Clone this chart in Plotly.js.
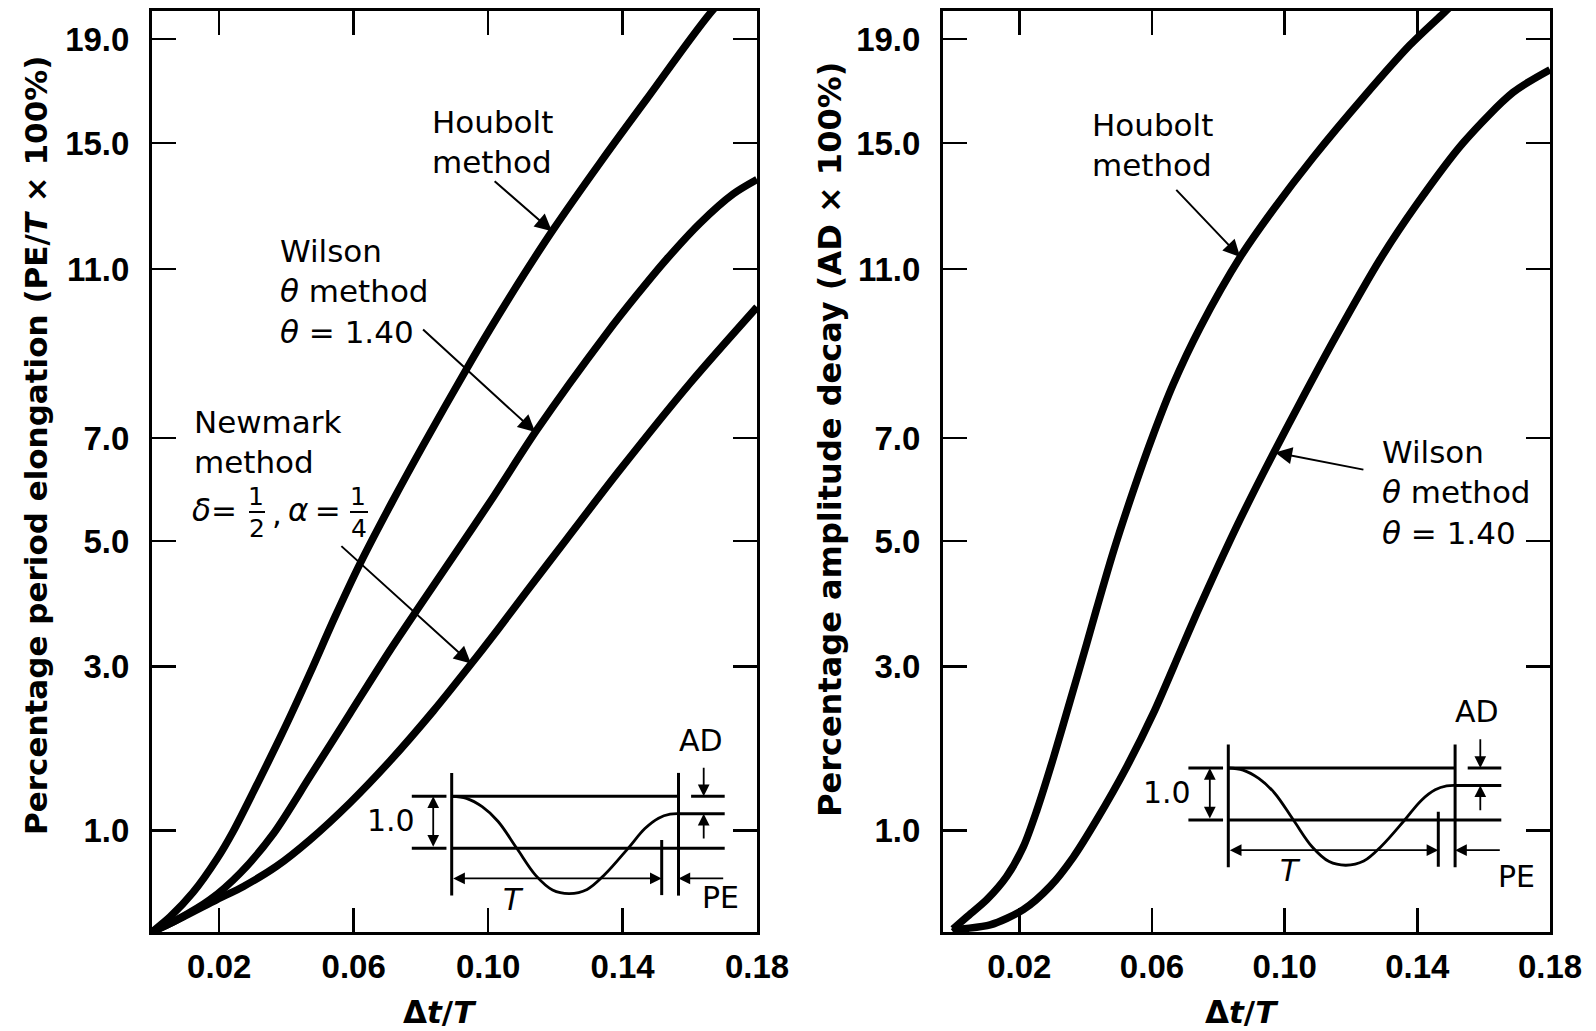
<!DOCTYPE html>
<html><head><meta charset="utf-8">
<script src="https://cdn.plot.ly/plotly-3.0.1.min.js"></script>
<style>html,body{margin:0;padding:0;background:#fff}#chart{width:1596px;height:1031px}</style>
</head><body><div id="chart"></div>
<script>
// ---------------- data ----------------
const xTickVals = [0.02, 0.06, 0.10, 0.14, 0.18];
const xTickText = ['0.02', '0.06', '0.10', '0.14', '0.18'];
const yTickVals = [1, 3, 5, 7, 11, 15, 19];
const yTickText = ['1.0', '3.0', '5.0', '7.0', '11.0', '15.0', '19.0'];

// the original's (non-uniform) vertical scale: value -> axis unit
const yScaleValues = [0, 1, 3, 5, 7, 11, 15, 19];
const yScaleUnits  = [0, 101.3, 265.3, 391, 494, 663, 789, 893];
const yTopUnit = 921;

// Percentage period elongation (left)
const peHouboltX = [0, 0.0054, 0.0122, 0.0193, 0.0241, 0.0312, 0.0390, 0.0470, 0.0545, 0.0619, 0.0713, 0.0806, 0.0937, 0.1006, 0.1104, 0.1193, 0.1333, 0.1473, 0.1681, 0.1726];
const peHouboltY = [0, 0.15, 0.39, 0.72, 0.99, 1.56, 2.21, 2.92, 3.80, 4.64, 5.74, 6.85, 8.65, 9.58, 10.84, 12.24, 14.37, 16.71, 20.29, 20.7];
const peWilsonX  = [0, 0.0074, 0.0173, 0.0262, 0.0361, 0.0470, 0.0589, 0.0708, 0.0788, 0.0896, 0.1015, 0.1145, 0.1353, 0.1442, 0.1531, 0.1630, 0.1729, 0.1800];
const peWilsonY  = [0, 0.12, 0.32, 0.58, 0.97, 1.66, 2.43, 3.26, 3.90, 4.75, 5.85, 7.19, 9.48, 10.38, 11.31, 12.45, 13.38, 13.84];
const peNewmarkX = [0, 0.0093, 0.0193, 0.0272, 0.0371, 0.0470, 0.0589, 0.0708, 0.0837, 0.0941, 0.1026, 0.1115, 0.1234, 0.1392, 0.1601, 0.1800];
const peNewmarkY = [0, 0.15, 0.32, 0.45, 0.65, 0.91, 1.34, 1.85, 2.46, 2.99, 3.57, 4.20, 5.04, 6.38, 8.30, 10.1];

// Percentage amplitude decay (right)
const adHouboltX = [0, 0.0042, 0.0102, 0.0162, 0.0212, 0.0253, 0.0303, 0.0353, 0.0403, 0.0433, 0.0483, 0.0544, 0.0604, 0.0664, 0.0745, 0.0868, 0.0966, 0.1086, 0.1237, 0.1378, 0.1478, 0.1514];
const adHouboltY = [0.03, 0.15, 0.32, 0.55, 0.84, 1.25, 1.89, 2.58, 3.36, 3.92, 4.82, 5.98, 7.08, 8.27, 9.61, 11.41, 12.89, 14.54, 16.75, 18.77, 19.98, 20.42];
const adWilsonX  = [0, 0.0011, 0.0112, 0.0212, 0.0293, 0.0363, 0.0433, 0.0524, 0.0604, 0.0685, 0.0735, 0.0795, 0.0865, 0.0966, 0.1046, 0.1152, 0.1288, 0.1398, 0.1539, 0.1689, 0.1800];
const adWilsonY  = [0, 0.02, 0.07, 0.22, 0.45, 0.74, 1.13, 1.78, 2.43, 3.24, 3.85, 4.55, 5.41, 6.70, 7.83, 9.37, 11.31, 13.05, 15.02, 16.95, 17.82];

// arrow (tail -> tip) in data units [x, value]
const arrowsPE = [
  {tail: [0.1015, 13.83], tip: [0.1190, 12.20]},  // Houbolt
  {tail: [0.0802, 9.60],  tip: [0.1140, 7.14]},   // Wilson
  {tail: [0.0559, 4.94],  tip: [0.0949, 3.05]}    // Newmark
];
const arrowsAD = [
  {tail: [0.0669, 13.56], tip: [0.0866, 11.38]},  // Houbolt
  {tail: [0.1242, 6.38],  tip: [0.0971, 6.72]}    // Wilson
];

// inset schematic (units: period T = 1, initial amplitude = 1)
const insetCurveT = [0, 0.07, 0.145, 0.22, 0.31, 0.40, 0.48, 0.56, 0.645, 0.73, 0.84, 0.92, 0.985, 1.04, 1.08];
const insetCurveA = [1.0, 0.96, 0.80, 0.52, 0.0, -0.52, -0.80, -0.87, -0.79, -0.50, 0.0, 0.38, 0.58, 0.655, 0.665];
const insetPEEnd = 1.08, insetDecayed = 0.665;

// ---------------- helpers ----------------
function toU(v) {
  const n = yScaleValues.length;
  for (let i = 1; i < n; i++) {
    if (v <= yScaleValues[i] || i === n - 1) {
      const v0 = yScaleValues[i - 1], v1 = yScaleValues[i];
      const u0 = yScaleUnits[i - 1], u1 = yScaleUnits[i];
      return u0 + (v - v0) / (v1 - v0) * (u1 - u0);
    }
  }
}
const W = 1596, H = 1031;
const px = x => x / W, py = y => 1 - y / H;

const fontMain = 'DejaVu Sans, Verdana, sans-serif';
const fontTick = 'Liberation Sans, Arial, sans-serif';
const black = '#000';

function axisStyle(extra) {
  return Object.assign({
    showline: true, linewidth: 3, linecolor: black, mirror: 'ticks',
    ticks: 'inside', ticklen: 24, tickwidth: 2.5, tickcolor: black,
    showgrid: false, zeroline: false, fixedrange: true,
    tickfont: {family: fontTick, size: 33, color: black, weight: 'bold'}
  }, extra);
}

function curve(xs, ys, xa, ya, name) {
  return {
    type: 'scatter', mode: 'lines', name: name, x: xs, y: ys.map(toU),
    xaxis: xa, yaxis: ya, hoverinfo: 'skip', showlegend: false,
    line: {color: black, width: 7.5, shape: 'spline', smoothing: 0.8}
  };
}

const traces = [
  curve(peHouboltX, peHouboltY, 'x', 'y', 'Houbolt (PE)'),
  curve(peWilsonX, peWilsonY, 'x', 'y', 'Wilson (PE)'),
  curve(peNewmarkX, peNewmarkY, 'x', 'y', 'Newmark (PE)'),
  curve(adHouboltX, adHouboltY, 'x2', 'y2', 'Houbolt (AD)'),
  curve(adWilsonX, adWilsonY, 'x2', 'y2', 'Wilson (AD)')
];

// inset straight lines + schematic curve
function insetLines(xa, ya) {
  const segs = [
    [[0, 0], [1.45, -0.91]],
    [[insetPEEnd, insetPEEnd], [1.45, -0.91]],
    [[1, 1], [0.16, -0.90]],
    [[0, insetPEEnd], [1, 1]],
    [[0, 1.30], [0, 0]],
    [[-0.19, -0.025], [1, 1]],
    [[-0.19, -0.025], [0, 0]],
    [[insetPEEnd, 1.30], [insetDecayed, insetDecayed]],
    [[1.14, 1.30], [1, 1]]
  ];
  const xs = [], ys = [];
  segs.forEach(s => { xs.push(s[0][0], s[0][1], null); ys.push(s[1][0], s[1][1], null); });
  return [
    {type: 'scatter', mode: 'lines', x: xs, y: ys, xaxis: xa, yaxis: ya, hoverinfo: 'skip',
     showlegend: false, line: {color: black, width: 3}},
    {type: 'scatter', mode: 'lines', x: insetCurveT, y: insetCurveA, xaxis: xa, yaxis: ya,
     hoverinfo: 'skip', showlegend: false, line: {color: black, width: 2.8, shape: 'spline', smoothing: 1}}
  ];
}
traces.push(...insetLines('x3', 'y3'), ...insetLines('x4', 'y4'));

const annotations = [];
const arrowBase = {text: '', showarrow: true, arrowhead: 2, arrowsize: 1.7, arrowwidth: 2,
                   arrowcolor: black, standoff: 0, startstandoff: 0};

function mainArrow(a, xr, yr) {
  annotations.push(Object.assign({}, arrowBase, {
    xref: xr, yref: yr, axref: xr, ayref: yr,
    x: a.tip[0], y: toU(a.tip[1]), ax: a.tail[0], ay: toU(a.tail[1])
  }));
}
arrowsPE.forEach(a => mainArrow(a, 'x', 'y'));
arrowsAD.forEach(a => mainArrow(a, 'x2', 'y2'));

function label(text, X, Y, opts) {
  annotations.push(Object.assign({
    xref: 'paper', yref: 'paper', x: px(X), y: py(Y), xanchor: 'left', yanchor: 'middle',
    align: 'left', text: text, showarrow: false,
    font: {family: fontMain, size: 31, color: black}
  }, opts || {}));
}
// left panel labels
label('Houbolt<br>method', 430, 142);
label('Wilson<br><i>θ</i> method<br><i>θ</i> = 1.40', 278, 291);
label('Newmark<br>method', 192, 442);
label('<i>δ</i>=', 190, 510);
label(',', 270, 513);
label('<i>α</i>\u2009=', 286, 510);
const fracFont = {family: fontMain, size: 25, color: black};
label('1', 256, 496, {xanchor: 'center', font: fracFont});
label('2', 257, 528, {xanchor: 'center', font: fracFont});
label('1', 358, 496, {xanchor: 'center', font: fracFont});
label('4', 359, 528, {xanchor: 'center', font: fracFont});
// right panel labels
label('Houbolt<br>method', 1090, 145);
label('Wilson<br><i>θ</i> method<br><i>θ</i> = 1.40', 1380, 493);
// axis titles
const titleFont = {family: fontMain, size: 31, color: black, weight: 'bold'};
label('Percentage period elongation (PE/<i>T</i> × 100%)', 36, 446,
      {xanchor: 'center', textangle: -90, font: titleFont});
label('Percentage amplitude decay (AD × 100%)', 830, 440,
      {xanchor: 'center', textangle: -90, font: Object.assign({}, titleFont, {size: 32})});
label('Δ<i>t</i>/<i>T</i>', 440, 1012, {xanchor: 'center', font: titleFont});
label('Δ<i>t</i>/<i>T</i>', 1242, 1012, {xanchor: 'center', font: titleFont});

// inset annotations
function insetAnn(xa, ya, peT, peA) {
  const arr = (x, y, ax, ay, both) => annotations.push(Object.assign({}, arrowBase, {
    xref: xa, yref: ya, axref: xa, ayref: ya, x: x, y: y, ax: ax, ay: ay,
    arrowsize: 1.3, arrowwidth: 1.8,
    arrowside: both ? 'end+start' : 'end', startarrowhead: 2, startarrowsize: 1.3
  }));
  arr(-0.088, 1, -0.088, 0, true);          // 1.0 amplitude
  arr(1, -0.58, 0, -0.58, true);            // T
  arr(insetPEEnd, -0.58, 1.30, -0.58);      // PE
  arr(1.2, 1, 1.2, 1.58);                   // AD (down)
  arr(1.2, insetDecayed, 1.2, 0.16);        // AD (up)
  const txt = (t, x, y) => annotations.push({
    xref: xa, yref: ya, x: x, y: y, xanchor: 'center', yanchor: 'middle', text: t,
    showarrow: false, font: {family: fontMain, size: 30, color: black}
  });
  txt('1.0', -0.29, 0.53);
  txt('AD', 1.186, 2.08);
  txt('<i>T</i>', 0.296, -0.975);
  txt('PE', peT, peA);
}
insetAnn('x3', 'y3', 1.28, -0.94);
insetAnn('x4', 'y4', 1.37, -1.08);

// inset axes placement (pixel origin of inset unit system)
const insetScale = {t: 210, a: 52};
const insetRangeT = [-0.45, 1.55], insetRangeA = [-1.4, 2.5];
function insetAxes(ox, oy, anchorX, anchorY) {
  const x0 = ox + insetRangeT[0] * insetScale.t, x1 = ox + insetRangeT[1] * insetScale.t;
  const yb = oy - insetRangeA[0] * insetScale.a, yt = oy - insetRangeA[1] * insetScale.a;
  return [
    {domain: [px(x0), px(x1)], range: insetRangeT, visible: false, fixedrange: true, anchor: anchorY},
    {domain: [py(yb), py(yt)], range: insetRangeA, visible: false, fixedrange: true, anchor: anchorX}
  ];
}
const inL = insetAxes(451.7, 848.3, 'x3', 'y3');
const inR = insetAxes(1228.3, 820, 'x4', 'y4');

const shapes = [
  {type: 'line', xref: 'paper', yref: 'paper', x0: px(249), x1: px(265), y0: py(512), y1: py(512), line: {color: black, width: 2}},
  {type: 'line', xref: 'paper', yref: 'paper', x0: px(350), x1: px(368), y0: py(512), y1: py(512), line: {color: black, width: 2}}
];

const layout = {
  width: W, height: H, margin: {l: 0, r: 0, t: 0, b: 0},
  paper_bgcolor: '#fff', plot_bgcolor: 'rgba(0,0,0,0)', showlegend: false,
  xaxis: axisStyle({domain: [px(152), px(757)], range: [0, 0.18], tickmode: 'array',
    tickvals: xTickVals, ticktext: xTickText, anchor: 'y', ticklabelstandoff: 3}),
  yaxis: axisStyle({domain: [py(932), py(11)], range: [0, yTopUnit], tickmode: 'array',
    tickvals: yTickVals.map(toU), ticktext: yTickText, anchor: 'x', ticklabelstandoff: 13}),
  xaxis2: axisStyle({domain: [px(943), px(1550)], range: [-0.003, 0.18], tickmode: 'array',
    tickvals: xTickVals, ticktext: xTickText, anchor: 'y2', ticklabelstandoff: 3}),
  yaxis2: axisStyle({domain: [py(932), py(11)], range: [0, yTopUnit], tickmode: 'array',
    tickvals: yTickVals.map(toU), ticktext: yTickText, anchor: 'x2', ticklabelstandoff: 13}),
  xaxis3: inL[0], yaxis3: inL[1], xaxis4: inR[0], yaxis4: inR[1],
  annotations: annotations, shapes: shapes
};

Plotly.newPlot('chart', traces, layout, {staticPlot: true, displayModeBar: false});
</script>
</body></html>
